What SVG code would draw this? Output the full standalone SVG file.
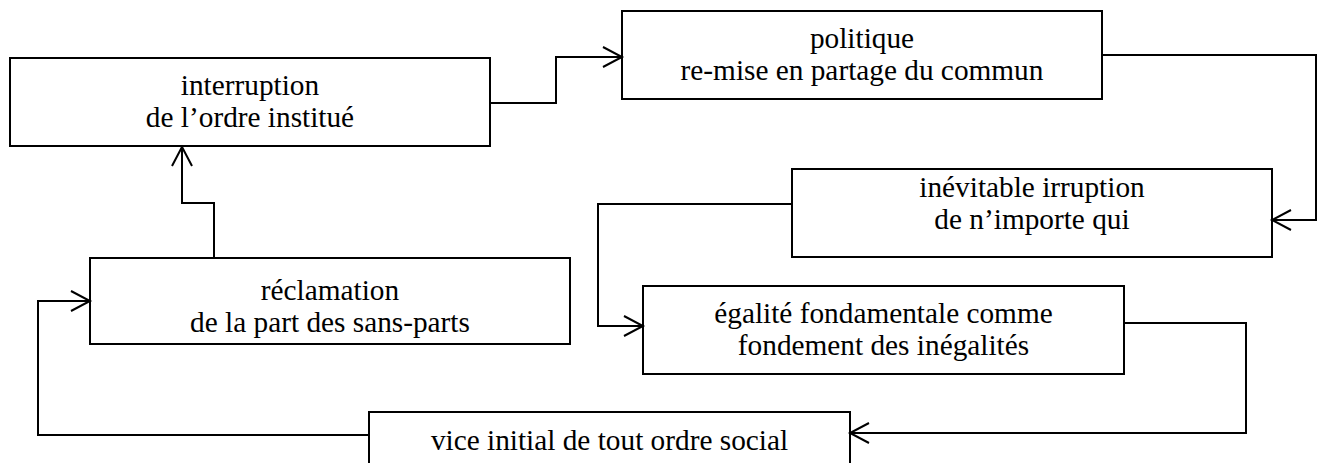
<svg xmlns="http://www.w3.org/2000/svg" width="1317" height="463" viewBox="0 0 1317 463">
<style>
.box{fill:#fff;stroke:#000;stroke-width:2}
.lbl{font-family:"Liberation Serif","Times New Roman",serif;font-size:29.3px;fill:#000;text-anchor:middle}
.con{fill:none;stroke:#000;stroke-width:2}
</style>
<defs>
<marker id="arr" markerUnits="userSpaceOnUse" markerWidth="24" markerHeight="24" viewBox="-2 -2 24 24" refX="19" refY="10" orient="auto">
<path d="M0,0 L19,10 L0,20" fill="none" stroke="#000" stroke-width="2"/>
</marker>
</defs>
<rect width="1317" height="463" fill="#fff"/>
<g id="n1"><rect class="box" x="10" y="58" width="480" height="88"/><text class="lbl" x="250" y="95">interruption</text><text class="lbl" x="250" y="127">de l’ordre institué</text></g>
<g id="n2"><rect class="box" x="622" y="11" width="480" height="88"/><text class="lbl" x="862" y="48">politique</text><text class="lbl" x="862" y="80">re-mise en partage du commun</text></g>
<g id="n3"><rect class="box" x="792" y="169" width="480" height="88"/><text class="lbl" x="1032" y="197">inévitable irruption</text><text class="lbl" x="1032" y="229">de n’importe qui</text></g>
<g id="n4"><rect class="box" x="643" y="286" width="481" height="88"/><text class="lbl" x="883.5" y="323">égalité fondamentale comme</text><text class="lbl" x="883.5" y="355">fondement des inégalités</text></g>
<g id="n5"><rect class="box" x="369" y="412" width="481" height="80"/><text class="lbl" x="609.5" y="450">vice initial de tout ordre social</text></g>
<g id="n6"><rect class="box" x="90" y="258" width="480" height="86"/><text class="lbl" x="330" y="300">réclamation</text><text class="lbl" x="330" y="332">de la part des sans-parts</text></g>
<g id="connectors">
<polyline class="con" points="214,258 214,203 182,203 182,147" marker-end="url(#arr)"/>
<polyline class="con" points="490,103 556,103 556,57 622,57" marker-end="url(#arr)"/>
<polyline class="con" points="1102,55 1316,55 1316,220 1272,220" marker-end="url(#arr)"/>
<polyline class="con" points="792,204 598,204 598,326 643,326" marker-end="url(#arr)"/>
<polyline class="con" points="1124,323 1246,323 1246,433 850,433" marker-end="url(#arr)"/>
<polyline class="con" points="369,435 38,435 38,301 90,301" marker-end="url(#arr)"/>
</g>
</svg>
